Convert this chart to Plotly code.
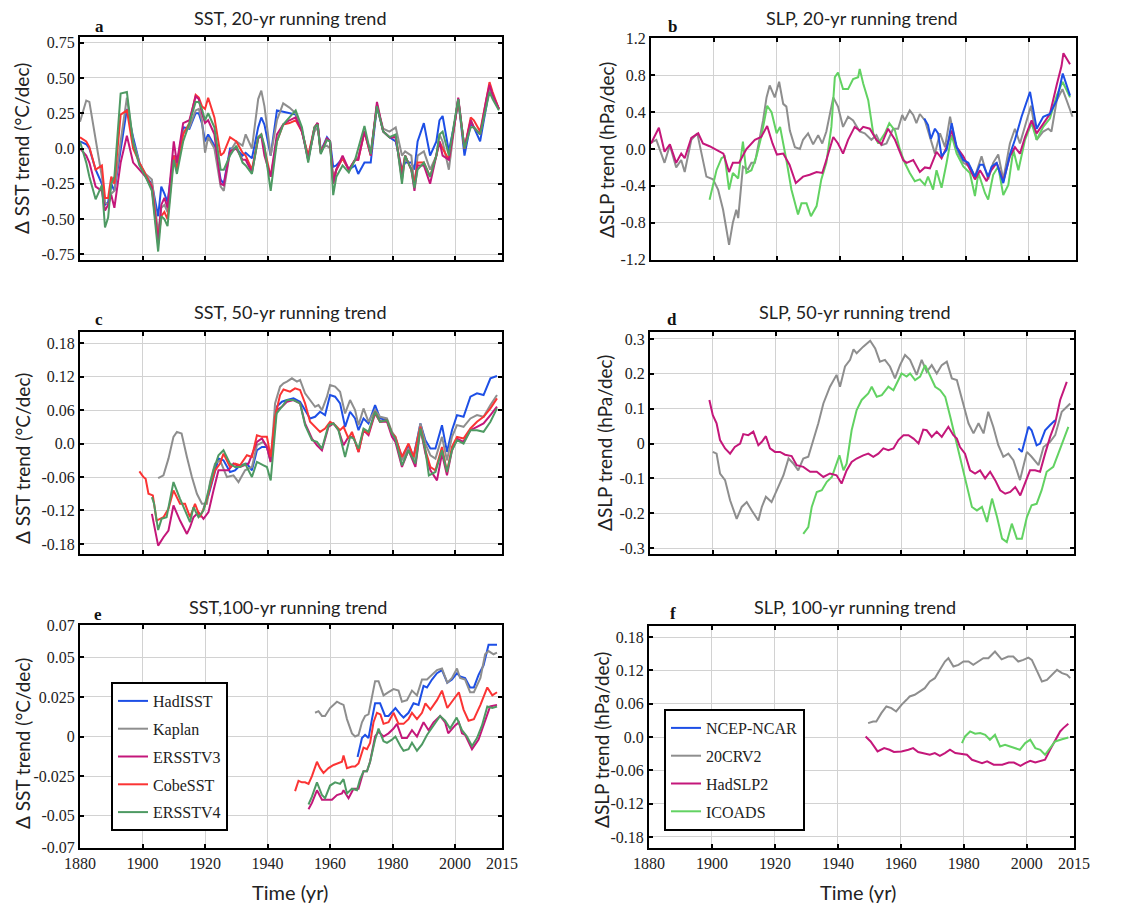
import plotly.graph_objects as go

W, H = 1146, 907

# ---------------- DATA ----------------
series_sst = ["HadISST", "Kaplan", "ERSSTV3", "CobeSST", "ERSSTV4"]
series_slp = ["NCEP-NCAR", "20CRV2", "HadSLP2", "ICOADS"]

# Panel a: SST 20-yr running trend (shared years)
a_years = [1880, 1882, 1883, 1885, 1887, 1888, 1889, 1890, 1891, 1893,
           1895, 1897, 1899, 1901, 1903, 1905, 1906, 1907, 1908, 1910,
           1911, 1913, 1915, 1917, 1918, 1919, 1920, 1921, 1923, 1925,
           1926, 1928, 1930, 1932, 1933, 1935, 1937, 1938, 1939, 1941,
           1943, 1945, 1947, 1949, 1951, 1953, 1955, 1956, 1957, 1959,
           1960, 1961, 1962, 1964, 1966, 1968, 1969, 1971, 1973, 1975,
           1977, 1979, 1981, 1983, 1984, 1986, 1987, 1988, 1990, 1992,
           1994, 1995, 1996, 1998, 2000, 2001, 2003, 2005, 2006, 2008,
           2010, 2011, 2012, 2014]
a_hadisst = [0.05, 0.03, 0.0, -0.15, -0.25, -0.4, -0.38, -0.25, -0.3, 0.0,
             0.28, 0.08, -0.1, -0.2, -0.25, -0.48, -0.27, -0.32, -0.38, -0.05,
             -0.12, 0.15, 0.14, 0.25, 0.25, 0.18, 0.05, 0.1, 0.02, -0.22,
             -0.25, 0.0, 0.0, -0.05, -0.03, -0.07, 0.15, 0.22, 0.17, -0.05,
             0.27, 0.26, 0.25, 0.24, 0.13, -0.08, 0.14, 0.18, -0.02, 0.08,
             0.05, -0.13, -0.12, -0.07, -0.15, -0.12, -0.18, -0.1, -0.1, 0.3,
             0.12, 0.08, 0.05, -0.15, -0.1, -0.1, -0.15, 0.05, 0.18, -0.05,
             0.05, 0.2, 0.23, -0.02, 0.2, 0.35, -0.05, 0.18, 0.15, 0.05,
             0.3, 0.43, 0.38, 0.28]
a_kaplan = [0.19, 0.34, 0.33, 0.05, -0.2, -0.38, -0.4, -0.32, -0.3, 0.05,
            0.36, 0.05, -0.1, -0.18, -0.22, -0.6, -0.42, -0.4, -0.45, -0.05,
            -0.15, 0.12, 0.15, 0.27, 0.28, 0.2, -0.03, 0.08, 0.0, -0.27,
            -0.3, -0.02, 0.05, 0.02, 0.1, 0.0, 0.35, 0.41, 0.3, -0.05,
            0.2, 0.32, 0.29, 0.25, 0.12, -0.06, 0.12, 0.15, 0.0, 0.02,
            0.0, -0.2, -0.15, -0.07, -0.15, -0.08, -0.06, 0.12, -0.03, 0.3,
            0.14, 0.12, 0.15, -0.05, -0.02, -0.05, -0.27, -0.05, -0.02, -0.15,
            -0.05, 0.1, 0.05, -0.15, 0.2, 0.33, 0.0, 0.2, 0.15, 0.1,
            0.32, 0.42, 0.38, 0.28]
a_ersstv3 = [0.0, -0.05, -0.1, -0.27, -0.3, -0.44, -0.4, -0.33, -0.42, -0.1,
             0.09, -0.1, -0.15, -0.2, -0.28, -0.68, -0.4, -0.35, -0.42, 0.05,
             -0.1, 0.18, 0.2, 0.37, 0.35, 0.25, 0.18, 0.2, 0.1, -0.25,
             -0.26, -0.02, 0.0, -0.08, -0.08, -0.17, 0.07, 0.09, -0.05, -0.2,
             0.1, 0.17, 0.2, 0.22, 0.12, -0.08, 0.15, 0.18, -0.03, 0.07,
             0.05, -0.25, -0.15, -0.05, -0.15, -0.08, -0.08, 0.12, -0.05, 0.33,
             0.12, 0.08, 0.08, -0.22, -0.05, -0.15, -0.3, -0.12, -0.12, -0.25,
             -0.05, 0.05, -0.05, -0.08, 0.2, 0.36, 0.0, 0.2, 0.15, 0.1,
             0.35, 0.45, 0.38, 0.28]
a_cobesst = [0.08, 0.05, 0.01, -0.15, -0.12, -0.35, -0.35, -0.2, -0.25, 0.24,
             0.27, 0.0, -0.1, -0.18, -0.27, -0.65, -0.48, -0.45, -0.5, -0.05,
             -0.15, 0.1, 0.18, 0.38, 0.36, 0.3, 0.28, 0.36, 0.22, -0.05,
             -0.03, 0.08, 0.05, -0.03, -0.05, -0.15, 0.08, 0.1, 0.0, -0.2,
             0.05, 0.17, 0.18, 0.2, 0.12, -0.05, 0.15, 0.18, -0.03, 0.07,
             0.05, -0.25, -0.15, -0.07, -0.15, -0.08, -0.08, 0.12, -0.05, 0.31,
             0.12, 0.08, 0.08, -0.18, -0.05, -0.15, -0.25, -0.1, -0.1, -0.2,
             -0.05, 0.05, 0.0, -0.08, 0.2, 0.35, 0.0, 0.22, 0.2, 0.12,
             0.35, 0.47, 0.4, 0.28]
a_ersstv4 = [0.05, -0.1, -0.2, -0.36, -0.26, -0.56, -0.49, -0.25, -0.2, 0.39,
             0.4, 0.04, -0.12, -0.2, -0.3, -0.73, -0.48, -0.5, -0.55, -0.08,
             -0.18, 0.05, 0.18, 0.33, 0.33, 0.28, 0.2, 0.25, 0.15, -0.15,
             -0.15, -0.05, 0.02, -0.1, -0.12, -0.18, 0.08, 0.1, 0.02, -0.3,
             0.05, 0.17, 0.22, 0.27, 0.15, -0.1, 0.15, 0.17, -0.04, 0.06,
             0.05, -0.33, -0.2, -0.12, -0.17, -0.08, 0.0, 0.16, -0.04, 0.3,
             0.12, 0.08, 0.1, -0.25, -0.05, -0.15, -0.28, -0.15, -0.1, -0.2,
             -0.05, 0.1, 0.12, -0.05, 0.22, 0.35, 0.0, 0.15, 0.15, 0.1,
             0.3, 0.4, 0.35, 0.27]

# Panel b: SLP 20-yr running trend
b_ncep_x = [1966.8, 1968, 1968.9, 1970.2, 1971.2, 1972.3, 1973.9, 1975.5, 1977.1, 1979.2,
            1980.8, 1982.9, 1984.5, 1985.5, 1987.1, 1988.2, 1989.8, 1991.9, 1994, 1995.6,
            1997.7, 2000.4, 2002.5, 2004.6, 2006.7, 2008.9, 2010.8, 2012.6, 2013.1]
b_ncep_y = [0.33, 0.26, 0.11, 0.22, 0.17, -0.08, -0.01, 0.28, 0.02, -0.12,
            -0.15, -0.3, -0.17, -0.17, -0.3, -0.19, -0.15, -0.37, -0.06, 0.1,
            0.35, 0.62, 0.22, 0.35, 0.38, 0.53, 0.82, 0.64, 0.58]
b_20cr_x = [1880, 1881.7, 1884.3, 1886, 1888, 1889.6, 1890.7, 1892.8, 1894.7, 1896,
            1897.6, 1899.7, 1901.3, 1902.9, 1904.8, 1906, 1907.1, 1907.7, 1909.2, 1910.8,
            1911.9, 1913, 1914.5, 1915.6, 1916.7, 1917.7, 1919.3, 1920.7, 1922, 1923,
            1924.1, 1925.7, 1927.3, 1928.3, 1929.9, 1931.5, 1933.1, 1934.4, 1935.7, 1937.9,
            1939.4, 1941, 1942.6, 1944.2, 1946.3, 1947.9, 1950, 1951.6, 1953.2, 1954.8,
            1956.9, 1958.5, 1959.8, 1960.6, 1962.2, 1963.3, 1964.3, 1965.4, 1967, 1968.6,
            1970.2, 1971.8, 1973.4, 1975, 1977.1, 1979.2, 1981.3, 1982.9, 1985, 1987.1,
            1988.7, 1990.3, 1991.9, 1994, 1995.6, 1997.2, 1999.3, 2000.7, 2002.5, 2004.6,
            2006.2, 2007.2, 2008.9, 2010.7, 2012, 2013.9]
b_20cr_y = [0.07, 0.1, -0.15, 0.04, -0.2, -0.12, -0.25, 0.1, 0.17, -0.05,
            -0.3, -0.33, -0.44, -0.66, -1.04, -0.8, -0.66, -0.75, -0.19, -0.22,
            -0.15, -0.15, 0.1, 0.31, 0.56, 0.69, 0.56, 0.73, 0.49, 0.46,
            0.2, 0.02, 0.0, 0.1, 0.17, 0.05, 0.15, 0.06, 0.19, 0.56,
            0.46, 0.24, 0.35, 0.31, 0.19, 0.17, 0.1, 0.15, 0.04, 0.06,
            0.22, 0.22, 0.37, 0.31, 0.42, 0.37, 0.28, 0.38, 0.31, 0.13,
            -0.05, 0.17, 0.02, 0.35, -0.01, -0.15, -0.19, -0.3, -0.08, -0.33,
            -0.15, -0.06, -0.33, 0.06, 0.22, 0.06, 0.31, 0.47, 0.1, 0.19,
            0.22, 0.19, 0.53, 0.65, 0.53, 0.35]
b_hadslp_x = [1880, 1882.5, 1884.3, 1886, 1888, 1889.6, 1890.7, 1892.8, 1895, 1896.5,
              1898.6, 1900.8, 1903, 1904.8, 1906, 1908, 1910.3, 1913, 1915, 1916.9,
              1918.6, 1920, 1922, 1924, 1926, 1928.3, 1930.4, 1932.6, 1934.4, 1935.7,
              1937.9, 1939.4, 1941, 1942.6, 1944.7, 1946.3, 1947.4, 1949.5, 1951.6, 1953.2,
              1955.3, 1957.5, 1960.1, 1961.2, 1963.3, 1965.4, 1967, 1968.6, 1970.7, 1972.3,
              1973.9, 1975.5, 1977.1, 1979.2, 1981.3, 1982.9, 1984.5, 1986.6, 1987.9, 1989.8,
              1991.9, 1994, 1995.6, 1997.2, 1998.8, 2000.9, 2002.5, 2004.6, 2006.7, 2008.9,
              2010.4, 2011, 2012.6, 2013.1]
b_hadslp_y = [0.06, 0.23, -0.03, 0.05, -0.15, -0.05, -0.1, 0.12, 0.17, 0.06,
              0.03, -0.01, -0.05, -0.25, -0.15, -0.15, 0.0, 0.1, 0.13, 0.25,
              0.06, -0.06, -0.05, -0.17, -0.37, -0.3, -0.28, -0.25, -0.26, -0.12,
              0.13, 0.06, -0.05, 0.1, 0.24, 0.2, 0.24, 0.22, 0.1, 0.05,
              0.22, 0.1, -0.12, -0.15, -0.12, -0.25, -0.2, -0.21, -0.03, -0.1,
              0.02, 0.2, 0.02, -0.08, -0.22, -0.33, -0.23, -0.35, -0.24, -0.15,
              -0.35, -0.08, 0.02, -0.05, 0.13, 0.31, 0.17, 0.28, 0.38, 0.7,
              0.9, 1.04, 0.94, 0.92]
b_icoads_x = [1898.6, 1900.8, 1902.4, 1903.4, 1904.8, 1906, 1907.7, 1909.2, 1910.3, 1911.9,
              1913.5, 1915, 1916.9, 1918.3, 1919.9, 1921, 1923, 1924.6, 1926.7, 1927.8,
              1929.4, 1930.8, 1932.6, 1934.1, 1935.7, 1937.3, 1938.4, 1939.4, 1941, 1942.6,
              1944.2, 1945.8, 1946.3, 1947.4, 1949, 1950.6, 1952.2, 1954.3, 1955.7, 1957.5,
              1959.1, 1960.6, 1962.2, 1963.8, 1965.4, 1967, 1968, 1969.6, 1970.7, 1972.3,
              1973.9, 1975.5, 1977.1, 1979.2, 1981.3, 1982.9, 1984, 1986.1, 1987.1, 1988.7,
              1990.3, 1991.9, 1993.5, 1995.1, 1996.7, 1998.8, 2000.9, 2002.5, 2004.6, 2006.7,
              2008.9, 2010.7, 2012, 2013.1]
b_icoads_y = [-0.55, -0.23, -0.1, -0.08, -0.44, -0.26, -0.32, 0.08, -0.26, -0.23,
              -0.08, 0.13, 0.47, 0.4, 0.17, 0.24, -0.12, -0.44, -0.71, -0.59,
              -0.59, -0.73, -0.62, -0.33, -0.15, 0.24, 0.78, 0.83, 0.65, 0.65,
              0.76, 0.78, 0.87, 0.71, 0.53, 0.17, 0.06, 0.17, 0.28, 0.2,
              -0.01, -0.15, -0.26, -0.35, -0.33, -0.39, -0.3, -0.44, -0.23, -0.42,
              -0.15, 0.15, -0.05, -0.19, -0.26, -0.51, -0.26, -0.48, -0.55, -0.28,
              -0.19, -0.5, -0.39, -0.01, -0.23, 0.1, 0.28, 0.1, 0.24, 0.33,
              0.58, 0.73, 0.64, 0.56]

# Panel c: SST 50-yr running trend
c_hadisst_x = [1919.5, 1921.1, 1922.7, 1924.3, 1925.9, 1928, 1929.6, 1931.2, 1933.4, 1935,
               1936.6, 1938.2, 1939.8, 1941, 1942.9, 1944.6, 1946.2, 1948.3, 1950.4, 1952,
               1953.6, 1955.2, 1956.8, 1958.4, 1960, 1961.6, 1963.2, 1964.8, 1966.4, 1968,
               1969.1, 1970.7, 1972.3, 1974.4, 1976, 1978.2, 1979.8, 1980.9, 1983, 1985.1,
               1986.7, 1988.9, 1990.5, 1992.1, 1993.7, 1995.8, 1997.4, 1999, 2000.6, 2002.7,
               2004.9, 2007, 2009.1, 2011.3, 2013.4]
c_hadisst_y = [-0.117, -0.093, -0.06, -0.027, -0.03, -0.051, -0.048, -0.039, -0.036, -0.048,
               -0.012, -0.006, -0.006, -0.03, 0.066, 0.075, 0.078, 0.081, 0.075, 0.06,
               0.045, 0.048, 0.057, 0.051, 0.087, 0.084, 0.072, 0.03, 0.057, 0.045,
               0.024, 0.045, 0.036, 0.069, 0.045, 0.042, 0.018, 0.009, -0.024, -0.003,
               -0.024, 0.036, 0.006, -0.009, -0.009, 0.033, -0.015, 0.024, 0.051, 0.048,
               0.084, 0.09, 0.087, 0.117, 0.121]
c_kaplan_x = [1905, 1906.7, 1908.3, 1909.9, 1911, 1912.5, 1914.2, 1915.8, 1917.4, 1919,
              1920.6, 1921.6, 1923.2, 1924.8, 1927, 1929.1, 1930.7, 1932.8, 1935, 1936.6,
              1938.7, 1939.8, 1941, 1942.4, 1944, 1945.1, 1946.2, 1947.8, 1949.4, 1950.4,
              1952, 1953.6, 1955.2, 1956.3, 1957.4, 1959, 1960, 1961.6, 1963.2, 1964.8,
              1966.4, 1968, 1969.1, 1970.7, 1972.3, 1974.4, 1976, 1978.2, 1979.8, 1980.9,
              1983, 1985.1, 1986.7, 1988.9, 1990.5, 1992.1, 1993.7, 1995.8, 1997.4, 1999,
              2000.6, 2002.7, 2004.9, 2007, 2009.1, 2011.3, 2013.4]
c_kaplan_y = [-0.062, -0.057, -0.027, 0.012, 0.021, 0.018, -0.024, -0.06, -0.09, -0.108,
              -0.108, -0.069, -0.036, -0.03, -0.06, -0.057, -0.069, -0.048, -0.042, -0.003,
              0.003, -0.006, -0.033, 0.072, 0.102, 0.108, 0.111, 0.117, 0.111, 0.114,
              0.09, 0.078, 0.066, 0.069, 0.06, 0.084, 0.105, 0.102, 0.093, 0.054,
              0.078, 0.06, 0.033, 0.063, 0.039, 0.06, 0.048, 0.045, 0.021, 0.012,
              -0.03, -0.009, -0.03, 0.036, 0.0, -0.021, -0.027, 0.012, -0.03, 0.012,
              0.033, 0.03, 0.045, 0.051, 0.048, 0.069, 0.087]
c_ersstv3_x = [1903, 1905, 1906.7, 1908.3, 1909.9, 1912, 1914.2, 1915.2, 1916.3, 1917.9,
               1919.5, 1921.1, 1922.7, 1924.3, 1927.5, 1929.1, 1931.2, 1933.9, 1936.6, 1938.2,
               1939.8, 1941, 1942.9, 1944.6, 1946.2, 1948.3, 1950.4, 1952, 1954.2, 1955.8,
               1957.4, 1959.5, 1961.1, 1962.7, 1964.3, 1965.9, 1967.5, 1969.1, 1970.7, 1972.3,
               1974.4, 1976, 1978.2, 1979.8, 1980.9, 1983, 1985.1, 1987.3, 1988.9, 1990.5,
               1992.1, 1994.2, 1995.8, 1997.4, 1999, 2000.6, 2002.7, 2004.9, 2007, 2009.1,
               2011.3, 2013.4]
c_ersstv3_y = [-0.126, -0.183, -0.168, -0.156, -0.111, -0.138, -0.162, -0.15, -0.132, -0.123,
               -0.135, -0.123, -0.084, -0.048, -0.048, -0.036, -0.042, -0.036, 0.003, 0.009,
               -0.006, -0.033, 0.06, 0.066, 0.075, 0.078, 0.072, 0.036, 0.009, -0.003,
               -0.012, 0.03, 0.036, 0.024, -0.003, 0.012, 0.012, -0.015, 0.024, 0.015,
               0.054, 0.039, 0.039, 0.012, 0.003, -0.042, -0.012, -0.042, 0.027, -0.018,
               -0.048, -0.066, -0.018, -0.057, -0.012, 0.009, 0.003, 0.024, 0.03, 0.036,
               0.051, 0.066]
c_cobesst_x = [1899, 1900.3, 1901, 1901.9, 1903.3, 1904.5, 1906.7, 1908.3, 1909.9, 1912,
               1913.6, 1915.2, 1916.8, 1918.4, 1920, 1921.6, 1923.2, 1924.8, 1925.9, 1928,
               1929.6, 1931.2, 1933.4, 1935, 1936.6, 1938.2, 1939.8, 1941, 1942.4, 1944,
               1945.1, 1947.2, 1948.8, 1950.4, 1952, 1953.6, 1955.2, 1956.8, 1958.4, 1960,
               1961.6, 1963.2, 1964.3, 1965.9, 1967, 1969.1, 1970.7, 1972.3, 1974.4, 1976,
               1978.2, 1979.8, 1980.9, 1983, 1985.1, 1986.7, 1988.9, 1990.5, 1992.1, 1993.7,
               1995.8, 1997.4, 1999, 2000.6, 2002.7, 2004.9, 2007, 2009.1, 2011.3, 2013.4]
c_cobesst_y = [-0.05, -0.06, -0.063, -0.09, -0.093, -0.138, -0.132, -0.117, -0.084, -0.108,
               -0.108, -0.132, -0.108, -0.132, -0.111, -0.078, -0.048, -0.036, -0.018, -0.042,
               -0.036, -0.039, -0.021, -0.024, 0.015, 0.012, 0.012, -0.024, 0.048, 0.087,
               0.097, 0.093, 0.099, 0.096, 0.072, 0.039, 0.03, 0.021, 0.027, 0.039,
               0.033, 0.024, 0.03, 0.009, 0.021, -0.015, 0.024, 0.018, 0.057, 0.039,
               0.042, 0.018, 0.012, -0.024, 0.0, -0.024, 0.03, -0.012, -0.042, -0.048,
               -0.006, -0.051, -0.006, 0.012, 0.009, 0.027, 0.039, 0.048, 0.063, 0.081]
c_ersstv4_x = [1903, 1903.7, 1905, 1906.1, 1907.7, 1909.9, 1912, 1913.6, 1915.2, 1916.3,
               1917.9, 1919.5, 1921.1, 1922.7, 1924.3, 1925.9, 1928, 1929.6, 1931.2, 1932.8,
               1935, 1936.6, 1938.7, 1939.8, 1941, 1942.9, 1944.6, 1946.2, 1948.3, 1950.4,
               1952, 1954.2, 1955.8, 1957.4, 1959.5, 1961.1, 1962.7, 1964.8, 1966.4, 1967.5,
               1969.1, 1970.7, 1972.3, 1974.4, 1976, 1978.2, 1979.8, 1980.9, 1983, 1985.1,
               1987.3, 1988.9, 1990.5, 1991.6, 1993.7, 1995.8, 1997.4, 1999, 2000.6, 2002.7,
               2004.9, 2007, 2009.1, 2011.3, 2013.4]
c_ersstv4_y = [-0.096, -0.108, -0.155, -0.135, -0.132, -0.069, -0.099, -0.12, -0.141, -0.114,
               -0.132, -0.12, -0.084, -0.048, -0.021, -0.012, -0.036, -0.042, -0.042, -0.036,
               -0.06, -0.033, -0.039, -0.042, -0.066, 0.054, 0.066, 0.078, 0.078, 0.072,
               0.033, 0.006, 0.003, -0.009, 0.033, 0.036, 0.024, -0.024, 0.012, 0.009,
               -0.009, 0.027, 0.021, 0.057, 0.039, 0.042, 0.018, 0.009, -0.039, -0.012,
               -0.036, 0.027, -0.012, -0.057, -0.051, -0.012, -0.051, -0.012, 0.006, 0.0,
               0.024, 0.024, 0.021, 0.039, 0.063]

# Panel d: SLP 50-yr running trend
d_ncep_x = [1997.3, 1998.4, 1999.4, 2000.5, 2001.5, 2003.1, 2004.2, 2005.8, 2007.4, 2009]
d_ncep_y = [-0.014, -0.024, 0.01, 0.048, 0.038, -0.005, 0.0, 0.038, 0.053, 0.067]
d_20cr_x = [1900, 1901.2, 1902.3, 1903.9, 1905.5, 1907.6, 1909.2, 1910.8, 1912.4, 1914.5,
            1915.6, 1916.9, 1918.7, 1920.3, 1922.5, 1924.1, 1925.7, 1927.2, 1928.8, 1930.4,
            1932, 1933.6, 1935.2, 1937.3, 1939.4, 1940.5, 1942.1, 1943.7, 1944.8, 1945.8,
            1947.9, 1950.1, 1951.7, 1953.2, 1954.8, 1956.4, 1958, 1959.6, 1961.2, 1962.8,
            1964.9, 1966.5, 1968.1, 1969.7, 1971.3, 1972.9, 1974.5, 1976.1, 1977.7, 1979.8,
            1981.4, 1983, 1984.6, 1986.2, 1987.7, 1989.3, 1990.9, 1992.5, 1994.1, 1995.7,
            1997.8, 2000, 2001.5, 2003.7, 2005.3, 2007.4, 2009, 2011.1, 2013.8]
d_20cr_y = [-0.024, -0.029, -0.086, -0.105, -0.163, -0.216, -0.182, -0.168, -0.192, -0.221,
            -0.182, -0.153, -0.168, -0.134, -0.091, -0.043, -0.058, -0.077, -0.043, -0.038,
            0.01, 0.058, 0.115, 0.163, 0.197, 0.163, 0.221, 0.24, 0.27, 0.259,
            0.278, 0.295, 0.273, 0.235, 0.24, 0.221, 0.187, 0.225, 0.254, 0.24,
            0.197, 0.24, 0.206, 0.225, 0.201, 0.225, 0.235, 0.187, 0.182, 0.115,
            0.058, 0.029, 0.058, 0.029, 0.091, 0.048, -0.005, -0.038, -0.029, -0.048,
            -0.105, -0.024, -0.038, -0.062, -0.01, 0.005, 0.024, 0.091, 0.115]
d_hadslp_x = [1898.9, 1900, 1901.2, 1902.3, 1903.9, 1905.5, 1907, 1908.7, 1909.7, 1911.3,
              1912.9, 1914.5, 1915.6, 1916.9, 1918.2, 1919.8, 1921.4, 1923, 1925.1, 1926.7,
              1928.8, 1931, 1933.1, 1935.2, 1937.3, 1939.4, 1941, 1942.6, 1944.2, 1945.8,
              1947.9, 1949.5, 1951.1, 1952.7, 1954.3, 1955.9, 1957.5, 1959.1, 1960.7, 1962.3,
              1963.9, 1965.5, 1967, 1968.1, 1969.7, 1971.3, 1972.9, 1975, 1976.6, 1977.7,
              1978.7, 1980.3, 1981.9, 1983.5, 1985.1, 1986.7, 1988.3, 1989.9, 1991.5, 1993.1,
              1994.7, 1996.3, 1997.9, 1999.4, 2001, 2002.6, 2004.2, 2005.8, 2007.4, 2009,
              2010.6, 2012.7]
d_hadslp_y = [0.125, 0.081, 0.058, 0.01, -0.014, -0.029, -0.01, 0.0, 0.027, 0.024,
              0.034, -0.005, 0.005, 0.021, -0.014, -0.024, -0.024, -0.032, -0.036, -0.062,
              -0.067, -0.081, -0.081, -0.096, -0.086, -0.091, -0.115, -0.077, -0.053, -0.043,
              -0.034, -0.029, -0.038, -0.029, -0.014, -0.019, -0.014, 0.01, 0.024, 0.024,
              0.014, 0.0, 0.04, 0.038, 0.019, 0.034, 0.019, 0.048, 0.024, 0.014,
              -0.01, -0.029, -0.077, -0.086, -0.077, -0.1, -0.081, -0.105, -0.134, -0.144,
              -0.139, -0.125, -0.149, -0.115, -0.077, -0.077, -0.081, -0.029, 0.019, 0.058,
              0.125, 0.177]
d_icoads_x = [1928.8, 1930.4, 1931.5, 1933.1, 1934.7, 1936.3, 1937.9, 1939.4, 1940.3, 1941.6,
              1942.6, 1944.2, 1945.8, 1947.4, 1949.5, 1950.6, 1952.2, 1953.8, 1955.9, 1957.5,
              1959.1, 1960.1, 1961.7, 1962.8, 1964.4, 1966, 1967.6, 1969.2, 1970.8, 1972.4,
              1974, 1975.6, 1977.7, 1979.3, 1980.9, 1982.5, 1984.1, 1985.7, 1987.3, 1988.9,
              1990.5, 1992.1, 1993.6, 1995.2, 1996.8, 1998.4, 2000, 2001.5, 2003.1, 2004.7,
              2006.3, 2008.4, 2010, 2011.6, 2013.2]
d_icoads_y = [-0.259, -0.24, -0.182, -0.139, -0.134, -0.11, -0.096, -0.058, -0.034, -0.077,
              -0.058, 0.038, 0.096, 0.125, 0.144, 0.163, 0.134, 0.139, 0.163, 0.153,
              0.182, 0.201, 0.192, 0.201, 0.182, 0.192, 0.225, 0.192, 0.163, 0.153,
              0.134, 0.077, 0.0, -0.058, -0.125, -0.182, -0.192, -0.182, -0.225, -0.158,
              -0.211, -0.273, -0.283, -0.23, -0.273, -0.273, -0.211, -0.177, -0.173, -0.134,
              -0.081, -0.067, -0.029, 0.01, 0.048]

# Panel e: SST 100-yr running trend
e_hadisst_x = [1968.8, 1970.2, 1971.2, 1972.3, 1973.4, 1974.4, 1976, 1977.6, 1978.7, 1980.9,
               1982.5, 1983.5, 1985.1, 1986.7, 1988.3, 1989.9, 1991, 1992.6, 1994.2, 1995.8,
               1997.5, 1999, 2000.6, 2001.6, 2003.2, 2004.8, 2006, 2007.5, 2009.1, 2010.7,
               2011.9, 2013.4]
e_hadisst_y = [-0.013, -0.001, 0.001, -0.001, 0.011, 0.021, 0.021, 0.013, 0.013, 0.018,
               0.014, 0.012, 0.015, 0.021, 0.02, 0.032, 0.031, 0.036, 0.04, 0.042,
               0.034, 0.036, 0.04, 0.038, 0.037, 0.031, 0.031, 0.039, 0.045, 0.058,
               0.058, 0.058]
e_kaplan_x = [1955.2, 1956.3, 1957.4, 1958.4, 1960, 1961.1, 1962.2, 1963.2, 1964.3, 1965.4,
              1967, 1968, 1969.1, 1970.2, 1971.2, 1972.3, 1973.4, 1974.4, 1975.5, 1977.1,
              1978.7, 1980.3, 1981.9, 1983, 1984.6, 1986.2, 1987.8, 1989.4, 1991, 1992.6,
              1994.2, 1995.8, 1997.5, 1999, 2000.6, 2001.6, 2003.2, 2004.8, 2006, 2008.1,
              2009.6, 2010.7, 2012.3, 2013.4]
e_kaplan_y = [0.015, 0.016, 0.013, 0.013, 0.018, 0.02, 0.022, 0.021, 0.02, 0.011,
              0.002, 0.0, 0.001, 0.009, 0.013, 0.014, 0.024, 0.035, 0.035, 0.026,
              0.028, 0.03, 0.029, 0.022, 0.023, 0.029, 0.026, 0.036, 0.036, 0.039,
              0.042, 0.043, 0.034, 0.037, 0.043, 0.037, 0.036, 0.028, 0.028, 0.037,
              0.052, 0.054, 0.052, 0.053]
e_ersstv3_x = [1953.1, 1954.2, 1955.8, 1957.4, 1959, 1960.6, 1962.2, 1963.8, 1964.3, 1965.9,
               1967.5, 1969.1, 1970.7, 1971.8, 1972.8, 1974.4, 1975.5, 1977.1, 1978.7, 1980.3,
               1981.4, 1983, 1984.6, 1986.2, 1987.8, 1989.9, 1991.5, 1993.1, 1995.2, 1996.8,
               1997.8, 2000, 2001.2, 2002.2, 2003.2, 2005.4, 2007.5, 2009.6, 2011.2, 2013.4]
e_ersstv3_y = [-0.046, -0.042, -0.034, -0.04, -0.04, -0.04, -0.037, -0.036, -0.034, -0.039,
               -0.033, -0.033, -0.022, -0.022, -0.016, 0.0, 0.003, 0.0, 0.002, 0.005,
               0.008, -0.001, -0.001, 0.004, 0.0, 0.009, 0.004, 0.009, 0.013, 0.009,
               0.002, 0.007, 0.009, 0.002, 0.001, -0.008, -0.002, 0.01, 0.019, 0.02]
e_cobesst_x = [1948.8, 1949.9, 1951, 1952, 1953.1, 1954.2, 1955.8, 1956.8, 1957.9, 1959.5,
               1961.1, 1962.7, 1963.8, 1964.3, 1965.4, 1967, 1968, 1969.1, 1970.7, 1971.8,
               1972.8, 1973.9, 1975, 1976.1, 1977.1, 1978.7, 1980.3, 1981.9, 1983.5, 1985.1,
               1986.2, 1987.8, 1989.4, 1990.5, 1992.1, 1994.2, 1995.8, 1997.5, 1999, 2001.2,
               2002.7, 2004.3, 2006, 2008.1, 2010.3, 2011.9, 2013.4]
e_cobesst_y = [-0.0345, -0.028, -0.029, -0.029, -0.03, -0.025, -0.016, -0.02, -0.023, -0.02,
               -0.018, -0.017, -0.016, -0.012, -0.02, -0.019, -0.019, -0.017, -0.007, -0.008,
               -0.004, 0.009, 0.015, 0.014, 0.008, 0.009, 0.015, 0.008, 0.008, 0.011,
               0.015, 0.011, 0.015, 0.021, 0.017, 0.023, 0.029, 0.018, 0.022, 0.028,
               0.017, 0.01, 0.011, 0.02, 0.031, 0.026, 0.028]
e_ersstv4_x = [1953.1, 1954.2, 1955.8, 1957.4, 1958.4, 1960, 1961.6, 1963.2, 1964.3, 1965.4,
               1967, 1968.6, 1969.6, 1970.7, 1971.8, 1972.8, 1974.4, 1975.5, 1977.1, 1978.2,
               1979.8, 1980.9, 1982.5, 1983.5, 1985.1, 1986.2, 1987.8, 1989.4, 1991, 1993.1,
               1995.2, 1996.8, 1998.4, 2000.5, 2002.2, 2003.8, 2005.4, 2007, 2008.6, 2010.3,
               2011.9, 2013.4]
e_ersstv4_y = [-0.043, -0.038, -0.029, -0.037, -0.039, -0.031, -0.029, -0.03, -0.027, -0.036,
               -0.033, -0.034, -0.027, -0.022, -0.022, -0.016, -0.002, 0.005, -0.003, -0.004,
               -0.002, 0.0, -0.006, -0.009, -0.008, -0.004, -0.009, -0.005, 0.001, 0.007,
               0.013, 0.01, 0.005, 0.012, 0.004, 0.0, -0.006, -0.001, 0.007, 0.019,
               0.018, 0.019]

# Panel f: SLP 100-yr running trend (NCEP-NCAR too short for a 100-yr trend)
f_20cr_x = [1949.6, 1951.2, 1952.2, 1953.8, 1955.4, 1957, 1958.5, 1960.2, 1961.8, 1962.8,
            1964.4, 1966, 1967.6, 1969.2, 1970.8, 1972.4, 1974, 1975.1, 1976.7, 1978.3,
            1979.9, 1981.5, 1983, 1984.6, 1986.2, 1987.8, 1989.9, 1992, 1994.1, 1995.7,
            1997.3, 1998.9, 2000.5, 2001.6, 2003.2, 2004.8, 2006.4, 2008, 2009.6, 2011.2,
            2012.8, 2013.8]
f_20cr_y = [0.025, 0.028, 0.028, 0.043, 0.055, 0.052, 0.046, 0.058, 0.067, 0.073,
            0.076, 0.082, 0.088, 0.1, 0.106, 0.121, 0.136, 0.142, 0.127, 0.13,
            0.136, 0.136, 0.13, 0.136, 0.142, 0.142, 0.154, 0.14, 0.145, 0.145,
            0.136, 0.139, 0.143, 0.139, 0.118, 0.1, 0.103, 0.112, 0.121, 0.115,
            0.112, 0.106]
f_hadslp_x = [1948.8, 1950.4, 1951.5, 1952.6, 1954.7, 1956.4, 1957.8, 1960.2, 1962.4, 1963.9,
              1965.5, 1967.6, 1969.2, 1970.8, 1972.4, 1974, 1975.6, 1977.3, 1979.4, 1981,
              1982.6, 1984.2, 1985.8, 1987.4, 1989.5, 1992.2, 1994.3, 1995.9, 1998, 1999.5,
              2001.1, 2002.7, 2004.3, 2005.8, 2007.4, 2009, 2010.6, 2011.6, 2013.2]
f_hadslp_y = [0.001, -0.008, -0.017, -0.026, -0.02, -0.023, -0.027, -0.026, -0.023, -0.02,
              -0.027, -0.03, -0.032, -0.029, -0.034, -0.029, -0.023, -0.029, -0.03, -0.032,
              -0.041, -0.044, -0.047, -0.044, -0.05, -0.05, -0.046, -0.046, -0.052, -0.047,
              -0.043, -0.046, -0.044, -0.041, -0.023, -0.005, 0.01, 0.016, 0.024]
f_icoads_x = [1979.4, 1980.4, 1982, 1983.6, 1985.2, 1986.8, 1988.3, 1989.9, 1991.5, 1993.1,
              1994.7, 1996.3, 1997.8, 1999.5, 2001.1, 2002.7, 2004.3, 2005.8, 2007.4, 2009,
              2011.2, 2013.2]
f_icoads_y = [-0.011, 0.001, 0.01, 0.006, 0.007, 0.004, -0.005, 0.004, -0.017, -0.014,
              -0.017, -0.02, -0.023, -0.011, -0.005, -0.02, -0.023, -0.032, -0.02, -0.008,
              -0.004, -0.001]

# Axis ticks
x_tickvals = [1880, 1900, 1920, 1940, 1960, 1980, 2000, 2015]
x_ticktext = ["1880", "1900", "1920", "1940", "1960", "1980", "2000", "2015"]
a_ytick = [-0.75, -0.5, -0.25, 0, 0.25, 0.5, 0.75]
a_ytext = ["-0.75", "-0.50", "-0.25", "0.0", "0.25", "0.50", "0.75"]
b_ytick = [-1.2, -0.8, -0.4, 0, 0.4, 0.8, 1.2]
b_ytext = ["-1.2", "-0.8", "-0.4", "0.0", "0.4", "0.8", "1.2"]
c_ytick = [-0.18, -0.12, -0.06, 0, 0.06, 0.12, 0.18]
c_ytext = ["-0.18", "-0.12", "-0.06", "0.0", "0.06", "0.12", "0.18"]
d_ytick = [-0.3, -0.2, -0.1, 0, 0.1, 0.2, 0.3]
d_ytext = ["-0.3", "-0.2", "-0.1", "0", "0.1", "0.2", "0.3"]
e_ytick = [-0.07, -0.05, -0.025, 0, 0.025, 0.05, 0.07]
e_ytext = ["-0.07", "-0.05", "-0.025", "0", "0.025", "0.05", "0.07"]
f_ytick = [-0.18, -0.12, -0.06, 0, 0.06, 0.12, 0.18]
f_ytext = ["-0.18", "-0.12", "-0.06", "0.0", "0.06", "0.12", "0.18"]

# ---------------- STYLE ----------------
COL = {
    "HadISST": "#1d4fe6", "Kaplan": "#8e8e8e", "ERSSTV3": "#c4177a",
    "CobeSST": "#fb3434", "ERSSTV4": "#4e9a63",
    "NCEP-NCAR": "#1d4fe6", "20CRV2": "#8e8e8e", "HadSLP2": "#c4177a", "ICOADS": "#62d262",
}
SERIF = "Liberation Serif, Times New Roman, serif"
SANS = "Lato, Open Sans, sans-serif"
LW = 2


def px(x, y):
    return x / W, 1 - y / H


fig = go.Figure()


def add(name, xs, ys, ax, legend=None, rank=None):
    n = min(len(xs), len(ys))
    tr = go.Scatter(x=xs[:n], y=ys[:n], mode="lines", name=name,
                    line=dict(color=COL[name], width=LW),
                    xaxis="x" + ax, yaxis="y" + ax,
                    showlegend=legend is not None, hoverinfo="skip")
    if legend is not None:
        tr.legend = legend
        tr.legendgroup = name + legend
        tr.legendrank = rank
    fig.add_trace(tr)


# a
add("HadISST", a_years, a_hadisst, "")
add("Kaplan", a_years, a_kaplan, "")
add("CobeSST", a_years, a_cobesst, "")
add("ERSSTV3", a_years, a_ersstv3, "")
add("ERSSTV4", a_years, a_ersstv4, "")
# b
add("20CRV2", b_20cr_x, b_20cr_y, "2")
add("ICOADS", b_icoads_x, b_icoads_y, "2")
add("HadSLP2", b_hadslp_x, b_hadslp_y, "2")
add("NCEP-NCAR", b_ncep_x, b_ncep_y, "2", "legend2", 1)
# c
add("HadISST", c_hadisst_x, c_hadisst_y, "3")
add("Kaplan", c_kaplan_x, c_kaplan_y, "3")
add("ERSSTV3", c_ersstv3_x, c_ersstv3_y, "3")
add("CobeSST", c_cobesst_x, c_cobesst_y, "3")
add("ERSSTV4", c_ersstv4_x, c_ersstv4_y, "3")
# d
add("20CRV2", d_20cr_x, d_20cr_y, "4")
add("ICOADS", d_icoads_x, d_icoads_y, "4")
add("HadSLP2", d_hadslp_x, d_hadslp_y, "4")
add("NCEP-NCAR", d_ncep_x, d_ncep_y, "4")
# e (with legend)
add("HadISST", e_hadisst_x, e_hadisst_y, "5", "legend", 1)
add("Kaplan", e_kaplan_x, e_kaplan_y, "5", "legend", 2)
add("ERSSTV3", e_ersstv3_x, e_ersstv3_y, "5", "legend", 3)
add("CobeSST", e_cobesst_x, e_cobesst_y, "5", "legend", 4)
add("ERSSTV4", e_ersstv4_x, e_ersstv4_y, "5", "legend", 5)
# f (with legend2)
add("20CRV2", f_20cr_x, f_20cr_y, "6", "legend2", 2)
add("HadSLP2", f_hadslp_x, f_hadslp_y, "6", "legend2", 3)
add("ICOADS", f_icoads_x, f_icoads_y, "6", "legend2", 4)

# panel geometry (pixels: left, right, top, bottom)
geo = {
    "": (80, 502, 37, 260), "2": (651, 1076, 38, 260),
    "3": (80, 502, 332, 554), "4": (650, 1074, 332, 554),
    "5": (80, 502, 625, 848), "6": (649, 1074, 626, 848),
}
yinfo = {
    "": ([-0.79, 0.79], a_ytick, a_ytext),
    "2": ([-1.205, 1.205], b_ytick, b_ytext),
    "3": ([-0.198, 0.2], c_ytick, c_ytext),
    "4": ([-0.317, 0.32], d_ytick, d_ytext),
    "5": ([-0.0705, 0.0705], e_ytick, e_ytext),
    "6": ([-0.2, 0.2], f_ytick, f_ytext),
}
common = dict(showline=True, linecolor="black", linewidth=2, mirror="ticks",
              ticks="inside", ticklen=4, tickwidth=1.5, tickcolor="black",
              showgrid=True, gridcolor="#d2d2d2", gridwidth=1, zeroline=False,
              automargin=False,
              tickfont=dict(family=SERIF, size=16, color="#222"))
lay = {}
for k, (l, r, t, b) in geo.items():
    xk = "xaxis" + k
    yk = "yaxis" + k
    lay[xk] = dict(common, domain=[l / W, r / W], range=[1880, 2015],
                   tickvals=x_tickvals, ticktext=x_ticktext,
                   showticklabels=k in ("5", "6"), anchor="y" + k)
    rng, tv, tt = yinfo[k]
    lay[yk] = dict(common, domain=[1 - b / H, 1 - t / H], range=rng,
                   tickvals=tv, ticktext=tt, anchor="x" + k)
fig.update_layout(**lay)

ann = []
titles = [
    ("SST, 20-yr running trend", 290, 18), ("SLP, 20-yr running trend", 862, 18),
    ("SST, 50-yr running trend", 290, 312), ("SLP, 50-yr running trend", 855, 312),
    ("SST,100-yr running trend", 288, 607), ("SLP, 100-yr running trend", 855, 607),
]
for txt, x, y in titles:
    xx, yy = px(x, y)
    ann.append(dict(text=txt, x=xx, y=yy, xref="paper", yref="paper", showarrow=False,
                    xanchor="center", yanchor="middle",
                    font=dict(family=SANS, size=18, color="#222")))
letters = [("a", 99, 27), ("b", 672, 26), ("c", 99, 319), ("d", 672, 319),
           ("e", 98, 614), ("f", 673, 613)]
for txt, x, y in letters:
    xx, yy = px(x, y)
    ann.append(dict(text="<b>" + txt + "</b>", x=xx, y=yy, xref="paper", yref="paper",
                    showarrow=False, xanchor="center", yanchor="middle",
                    font=dict(family=SERIF, size=17, color="#111")))
ylabels = [("Δ SST trend (°C/dec)", 22, 149), ("ΔSLP trend (hPa/dec)", 606, 150),
           ("Δ SST trend (°C/dec)", 22, 459), ("ΔSLP trend (hPa/dec)", 604, 443),
           ("Δ SST trend (°C/dec)", 22, 744), ("ΔSLP trend (hPa/dec)", 601, 740)]
for txt, x, y in ylabels:
    xx, yy = px(x, y)
    ann.append(dict(text=txt, x=xx, y=yy, xref="paper", yref="paper", showarrow=False,
                    textangle=-90, xanchor="center", yanchor="middle",
                    font=dict(family=SANS, size=19, color="#222")))
for x in (290, 858):
    xx, yy = px(x, 892)
    ann.append(dict(text="Time (yr)", x=xx, y=yy, xref="paper", yref="paper",
                    showarrow=False, xanchor="center", yanchor="middle",
                    font=dict(family=SANS, size=20, color="#222")))

lx, ly = px(111, 682)
l2x, l2y = px(664, 709)
legend_style = dict(bgcolor="white", bordercolor="black", borderwidth=2,
                    font=dict(family=SERIF, size=16, color="#222"),
                    itemwidth=30, tracegroupgap=4, xanchor="left", yanchor="top")
fig.update_layout(
    width=W, height=H, margin=dict(l=0, r=0, t=0, b=0),
    paper_bgcolor="white", plot_bgcolor="white",
    annotations=ann,
    legend=dict(legend_style, x=lx, y=ly),
    legend2=dict(legend_style, x=l2x, y=l2y),
)
fig.write_html("out.html", config={"displayModeBar": False},
               post_script="document.body.style.margin='0';document.body.style.overflow='hidden';")
